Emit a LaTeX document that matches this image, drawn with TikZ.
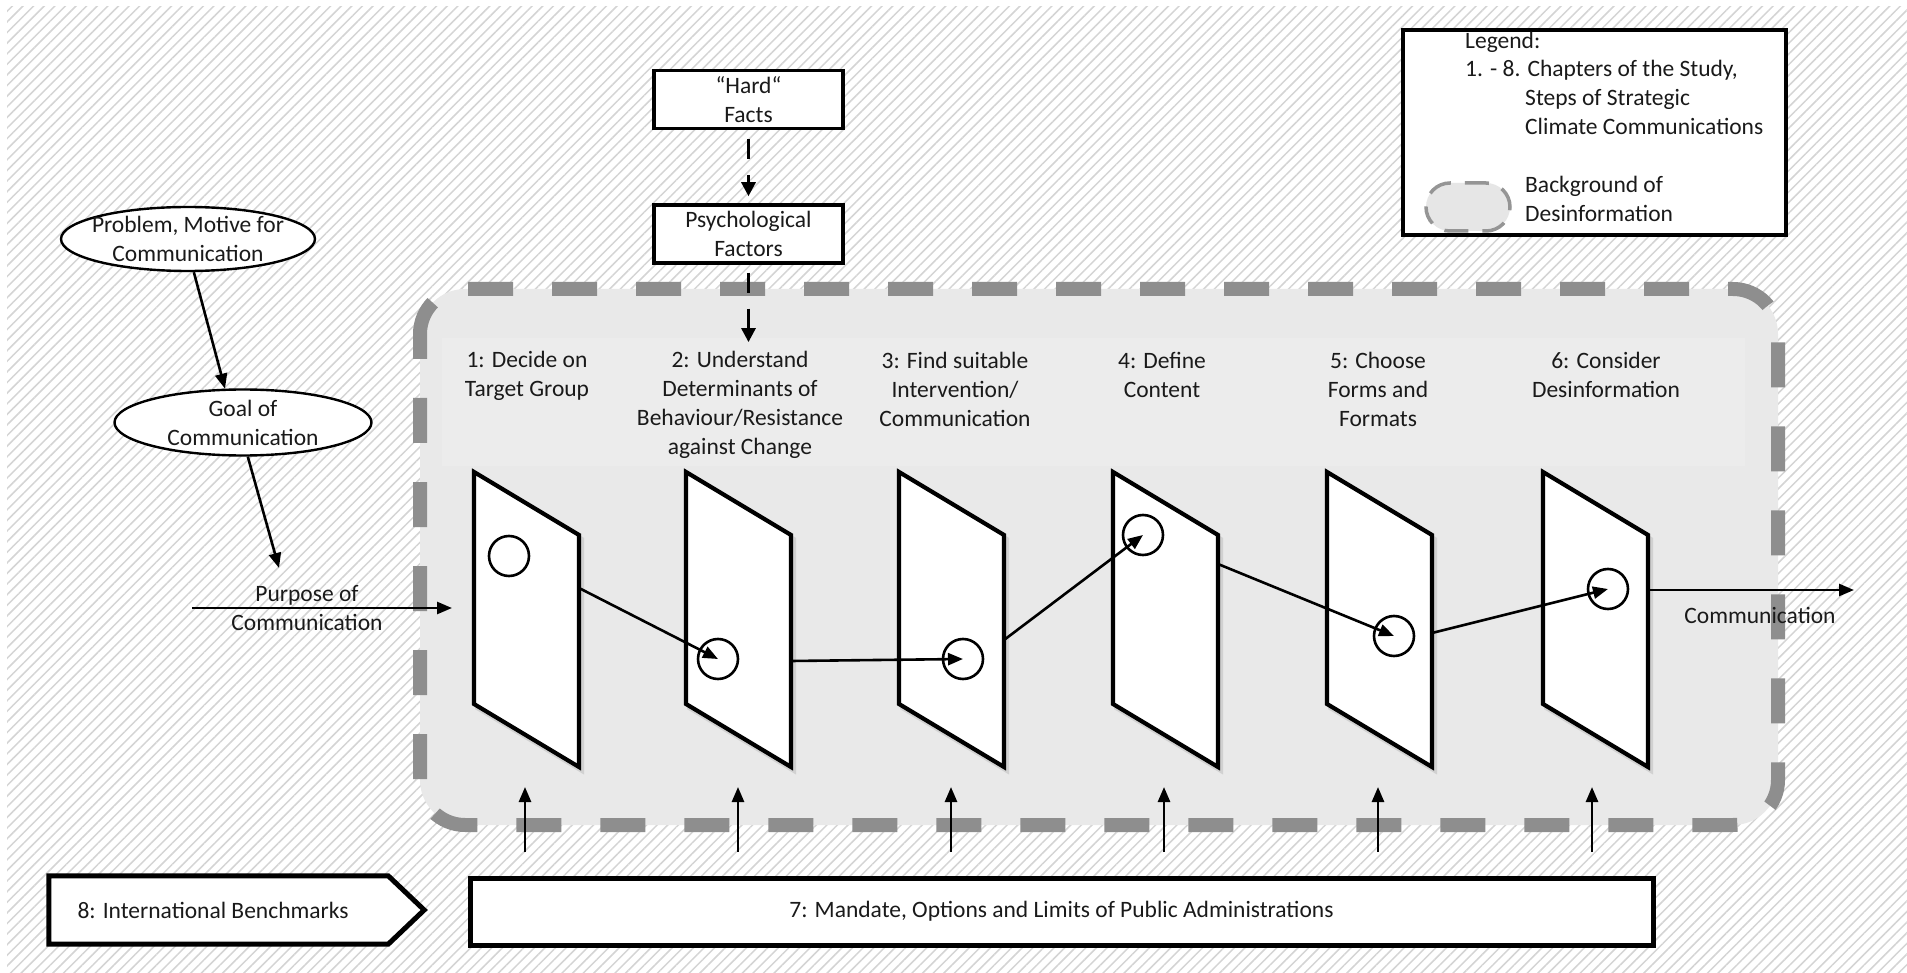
\documentclass[tikz,border=0pt]{standalone}
\usepackage{fontspec}
\setmainfont{Carlito}
\usetikzlibrary{arrows.meta,shapes.geometric,patterns.meta,calc}
\definecolor{ink}{HTML}{1A1A1A}
\definecolor{hatch}{HTML}{D4D4D4}
\definecolor{zonefill}{HTML}{E9E9E9}
\definecolor{zoneinner}{HTML}{ECECEC}
\definecolor{zonedash}{HTML}{8E8E8E}
\definecolor{iconfill}{HTML}{E6E6E6}
\definecolor{icondash}{HTML}{959595}

\begin{document}
\begin{tikzpicture}[x=1pt,y=-1pt,
  every node/.style={font=\fontsize{23.5}{29}\selectfont, text=ink},
  txt/.style={inner sep=0pt, align=center},
  line/.style={inner sep=0pt, anchor=west, text height=16pt, text depth=5pt},
  arr/.style={line width=2.6pt, draw=black, -{Triangle[length=15pt,width=12pt]}},
  darr/.style={line width=3pt, draw=black, dash pattern=on 20pt off 16pt, dash phase=28pt,
               -{Triangle[length=14pt,width=14pt]}},
  factbox/.style={draw=black, fill=white, line width=3.5pt, minimum width=189pt,
                  minimum height=58pt, inner sep=0pt, align=center},
  oval/.style={ellipse, draw=black, fill=white, line width=2.4pt, inner sep=0pt},
  panel/.style={draw=black, fill=white, line width=4.2pt, line join=miter},
  panelshade/.style={fill=black!18, draw=black!18, line width=4pt},
  spot/.style={circle, draw=black, line width=2.6pt, minimum size=40pt, inner sep=0pt},
  basebox/.style={draw=black, fill=white, line width=5pt, inner sep=0pt},
  zone/.style={fill=zonefill, draw=zonedash, line width=14pt,
               dash pattern=on 45pt off 39pt, dash phase=20pt, rounded corners=45pt},
]
\useasboundingbox (0,0) rectangle (1907,973);

% hatched backdrop
\fill[white] (0,0) rectangle (1907,973);
\fill[pattern={Lines[angle=45,distance=7.5pt,line width=1.5pt]}, pattern color=hatch]
  (7,7) rectangle (1907,973);

% background of disinformation
\filldraw[zone] (420,289) rectangle (1778,825);
\fill[zoneinner] (442,338) rectangle (1745,466);

% legend
\node[draw=black, fill=white, line width=4pt, minimum width=383pt, minimum height=205pt,
      inner sep=0pt] (legend) at (1594.5,132.5) {};
\node[line] (lg0) at (1465,43.5) {Legend:};
\node[line] (lg1) at (1465,71) {1. - 8. Chapters of the Study,};
\node[line] (lg2) at (1525,100) {Steps of Strategic};
\node[line] (lg3) at (1525,129) {Climate Communications};
\node[line] (lg4) at (1525,187.5) {Background of};
\node[line] (lg5) at (1525,216.5) {Desinformation};
\filldraw[fill=iconfill, draw=icondash, line width=3.5pt, dash pattern=on 24pt off 14pt,
          dash phase=6pt, rounded corners=24pt] (1426,183) rectangle (1510,231);

% facts boxes
\node[factbox] (hard) at (748.5,99.5) {“Hard“\\Facts};
\node[factbox] (psych) at (748.5,234) {Psychological\\Factors};

% motive ellipses
\node[oval, minimum width=254pt, minimum height=64pt,
      label={[txt]center:Problem, Motive for\\Communication}] (prob) at (188,239) {};
\node[oval, minimum width=257pt, minimum height=66pt,
      label={[txt]center:Goal of\\Communication}] (goal) at (243,422.5) {};
\node[txt] (purpose) at (307,608) {Purpose of\\Communication};

% step captions
\node[txt] (l1) at (527,375.5) {1: Decide on\\Target Group};
\node[txt] (l2) at (740,405) {2: Understand\\Determinants of\\Behaviour/Resistance\\against Change};
\node[txt] (l3) at (955,389.5) {3: Find suitable\\Intervention/\\Communication};
\node[txt] (l4) at (1162,375) {4: Define\\Content};
\node[txt] (l5) at (1378,389.5) {5: Choose\\Forms and\\Formats};
\node[txt] (l6) at (1606,375) {6: Consider\\Desinformation};
\node[txt] (comm) at (1760,615) {Communication};

% step panels
\foreach \n/\x in {1/474,2/686,3/899,4/1113,5/1327,6/1543} {
  \filldraw[panelshade] ({\x+3},476) -- ({\x+108},539) -- ({\x+108},771) -- ({\x+3},708) -- cycle;
  \filldraw[panel] (\x,472) -- ({\x+105},535) -- ({\x+105},767) -- (\x,704) -- cycle;
}
\coordinate (p1w) at (474,608);

\node[spot] (c1) at (509,556) {};
\node[spot] (c2) at (718,659) {};
\node[spot] (c3) at (963,659) {};
\node[spot] (c4) at (1143,535) {};
\node[spot] (c5) at (1394,636) {};
\node[spot] (c6) at (1608,589) {};

% exits on the panel edges
\coordinate (s1) at (579,588);
\coordinate (s2) at (791,661);
\coordinate (s3) at (1004,640);
\coordinate (s4) at (1218,564);
\coordinate (s5) at (1432,633);
\coordinate (s6) at (1648,590);
\coordinate (out) at (1854,590);

\draw[arr] (s1) -- (c2.center);
\draw[arr] (s2) -- (c3.center);
\draw[arr] (s3) -- (c4.center);
\draw[arr] (s4) -- (c5.center);
\draw[arr] (s5) -- (c6.center);
\draw[arr] (s6) -- (out);

% inputs on the left
\coordinate (pin) at (192,608);
\coordinate (ptop) at (279,568);
\draw[arr] (prob.-80) -- (goal.118);
\draw[arr] (goal.-82) -- (ptop);
\draw[arr, shorten >=22pt] (pin) -- (p1w);

% facts chain
\draw[darr, shorten <=1pt, shorten >=7pt] (hard.south) -- (psych.north);
\draw[darr, shorten >=9pt] (psych.south) -- (psych.south |- l2.north);

% frame conditions
\node[basebox, minimum width=1183pt, minimum height=67pt] (b7) at (1061.5,911.5)
  {7: Mandate, Options and Limits of Public Administrations};
\node[inner sep=0pt, minimum width=339pt, minimum height=68pt] (b8) at (218.5,910) {};
\draw[basebox, line join=miter] (b8.north west) -- (b8.north east) -- ($(b8.east)+(36,0)$)
  -- (b8.south east) -- (b8.south west) -- cycle;
\node[txt] (b8t) at (213,910) {8: International Benchmarks};

\foreach \n/\x in {1/525,2/738,3/951,4/1164,5/1378,6/1592} {
  \coordinate (u\n) at (\x,852);
  \coordinate (v\n) at (\x,787);
  \draw[arr] (u\n) -- (v\n);
}
\end{tikzpicture}
\end{document}
